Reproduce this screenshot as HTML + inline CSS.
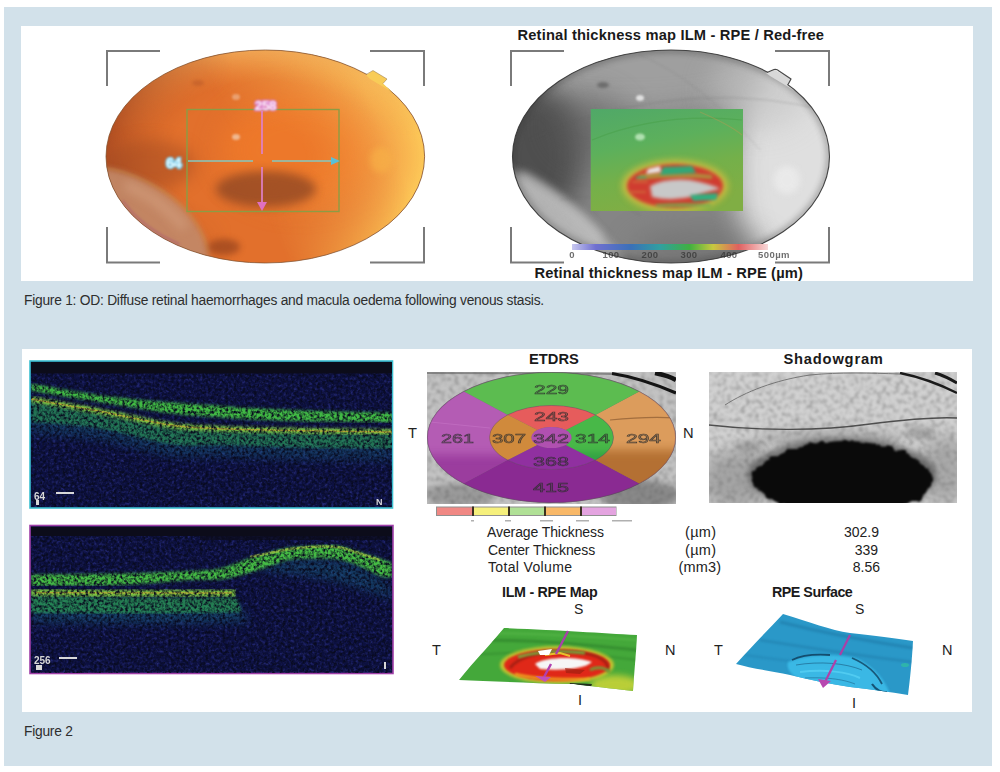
<!DOCTYPE html>
<html><head><meta charset="utf-8">
<style>
html,body{margin:0;padding:0;background:#fff;width:1000px;height:772px;overflow:hidden;position:relative;font-family:"Liberation Sans",sans-serif;}
.abs{position:absolute;}
#bg{left:4px;top:7px;width:988px;height:759px;background:#d2e1ea;}
#p1{left:21px;top:26px;width:952px;height:255px;background:#fff;}
#p2{left:22px;top:349px;width:950px;height:363px;background:#fff;}
.cap{font-size:13.8px;letter-spacing:-0.25px;color:#2e2e2e;white-space:nowrap;}
.b{font-weight:bold;color:#1a1a1a;white-space:nowrap;}
.t{color:#222;white-space:nowrap;font-size:14px;}
svg{position:absolute;left:0;top:0;}
</style></head><body>
<div id="bg" class="abs"></div><div id="p1" class="abs"></div><div id="p2" class="abs"></div>
<div class="abs cap" style="left:24px;top:292.5px;">Figure 1: OD: Diffuse retinal haemorrhages and macula oedema following venous stasis.</div>
<div class="abs cap" style="left:24px;top:723.5px;">Figure 2</div>
<svg width="1000" height="772" viewBox="0 0 1000 772">

<defs>
  <clipPath id="cL"><ellipse cx="265.3" cy="156.5" rx="159.3" ry="106.5"/></clipPath>
  <clipPath id="cR"><ellipse cx="671" cy="156.5" rx="158.5" ry="106.5"/></clipPath>
  <clipPath id="cGR"><rect x="590.5" y="109" width="152.5" height="102"/></clipPath>
  <filter id="bl14" color-interpolation-filters="sRGB" x="-50%" y="-50%" width="200%" height="200%"><feGaussianBlur stdDeviation="14"/></filter>
  <filter id="bl8" color-interpolation-filters="sRGB" x="-50%" y="-50%" width="200%" height="200%"><feGaussianBlur stdDeviation="8"/></filter>
  <filter id="bl5" color-interpolation-filters="sRGB" x="-50%" y="-50%" width="200%" height="200%"><feGaussianBlur stdDeviation="5"/></filter>
  <filter id="bl3" color-interpolation-filters="sRGB" x="-50%" y="-50%" width="200%" height="200%"><feGaussianBlur stdDeviation="3"/></filter>
  <filter id="bl2" color-interpolation-filters="sRGB" x="-50%" y="-50%" width="200%" height="200%"><feGaussianBlur stdDeviation="1.5"/></filter>
  <filter id="bl1" color-interpolation-filters="sRGB" x="-50%" y="-50%" width="200%" height="200%"><feGaussianBlur stdDeviation="0.8"/></filter>
  <radialGradient id="gOr" cx="0.6" cy="0.42" r="0.62">
    <stop offset="0" stop-color="#f07a2c"/>
    <stop offset="0.55" stop-color="#e4702c"/>
    <stop offset="1" stop-color="#c85c28"/>
  </radialGradient>
  <linearGradient id="gRim" x1="0" y1="0.5" x2="1" y2="0.3">
    <stop offset="0" stop-color="#a84a24"/>
    <stop offset="0.45" stop-color="#e48a40"/>
    <stop offset="0.8" stop-color="#f8c058"/>
    <stop offset="1" stop-color="#fcd060"/>
  </linearGradient>
  <linearGradient id="gGray" x1="0" y1="0" x2="1" y2="0">
    <stop offset="0" stop-color="#404040"/>
    <stop offset="0.25" stop-color="#6a6a6a"/>
    <stop offset="0.55" stop-color="#9a9a9a"/>
    <stop offset="0.8" stop-color="#c8c8c8"/>
    <stop offset="1" stop-color="#e4e4e4"/>
  </linearGradient>
  <linearGradient id="gGreen" x1="0" y1="0" x2="0.3" y2="1">
    <stop offset="0" stop-color="#50a868"/>
    <stop offset="0.4" stop-color="#5cb05c"/>
    <stop offset="0.7" stop-color="#74b04a"/>
    <stop offset="1" stop-color="#80ae44"/>
  </linearGradient>
  <linearGradient id="gBar" x1="0" y1="0" x2="1" y2="0">
    <stop offset="0" stop-color="#c8c8f0"/>
    <stop offset="0.12" stop-color="#7070d0"/>
    <stop offset="0.3" stop-color="#3a70b8"/>
    <stop offset="0.45" stop-color="#30a0a0"/>
    <stop offset="0.6" stop-color="#40b040"/>
    <stop offset="0.72" stop-color="#c8c840"/>
    <stop offset="0.85" stop-color="#e06060"/>
    <stop offset="1" stop-color="#f8d8d8"/>
  </linearGradient>
  <filter id="noise" color-interpolation-filters="sRGB" x="0" y="0" width="100%" height="100%">
    <feTurbulence type="fractalNoise" baseFrequency="0.9" numOctaves="2" seed="3" result="n"/>
    <feColorMatrix in="n" type="matrix" values="0 0 0 0 0  0 0 0 0 0  0 0 0 0 0  0 0 0 1.2 -0.45" result="a"/>
    <feComposite in="SourceGraphic" in2="a" operator="in"/>
  </filter>
  <radialGradient id="rimY" cx="0.5" cy="0.5" r="0.5">
    <stop offset="0.25" stop-color="#f6a84c" stop-opacity="0"/>
    <stop offset="0.75" stop-color="#f8b050" stop-opacity="0.8"/>
    <stop offset="1" stop-color="#fcc858" stop-opacity="1"/>
  </radialGradient>
  <radialGradient id="rimT" cx="0.5" cy="0.5" r="0.5">
    <stop offset="0.7" stop-color="#f0a050" stop-opacity="0"/>
    <stop offset="1" stop-color="#f0a858" stop-opacity="0.9"/>
  </radialGradient>
  <radialGradient id="rimD" cx="0.5" cy="0.5" r="0.5">
    <stop offset="0.6" stop-color="#a04420" stop-opacity="0"/>
    <stop offset="1" stop-color="#a04420" stop-opacity="0.8"/>
  </radialGradient>
  <linearGradient id="lgR" x1="0" y1="0.6" x2="1" y2="0.3"><stop offset="0.42" stop-color="#fff" stop-opacity="0"/><stop offset="0.85" stop-color="#fff" stop-opacity="1"/></linearGradient>
  <linearGradient id="lgT" x1="0" y1="0" x2="0" y2="1"><stop offset="0" stop-color="#fff" stop-opacity="1"/><stop offset="0.4" stop-color="#fff" stop-opacity="0"/></linearGradient>
  <linearGradient id="lgL" x1="0" y1="0" x2="1" y2="0"><stop offset="0" stop-color="#fff" stop-opacity="1"/><stop offset="0.4" stop-color="#fff" stop-opacity="0"/></linearGradient>
  <mask id="mkR"><rect x="100" y="45" width="330" height="225" fill="url(#lgR)"/></mask>
  <mask id="mkT"><rect x="100" y="45" width="330" height="225" fill="url(#lgT)"/></mask>
  <mask id="mkL"><rect x="100" y="45" width="330" height="225" fill="url(#lgL)"/></mask>
</defs>



<g clip-path="url(#cL)">
  <rect x="100" y="45" width="330" height="225" fill="#e2702c"/>
  <ellipse cx="300" cy="150" rx="80" ry="55" fill="#f27c2a" opacity="0.7" filter="url(#bl14)"/>
  <ellipse cx="265.3" cy="156.5" rx="159.3" ry="106.5" fill="url(#rimY)" mask="url(#mkR)"/>
  <ellipse cx="265.3" cy="156.5" rx="159.3" ry="106.5" fill="url(#rimT)" mask="url(#mkT)"/>
  <ellipse cx="265.3" cy="156.5" rx="159.3" ry="106.5" fill="url(#rimD)" mask="url(#mkL)"/>
  <ellipse cx="150" cy="165" rx="45" ry="25" fill="#a04a22" opacity="0.5" filter="url(#bl8)"/>
  <path d="M104 168 C130 171 160 186 180 204 C195 218 204 234 209 252 L205 280 L90 280 L90 168 Z" fill="#c28a6a" opacity="0.9" filter="url(#bl3)"/>
  <path d="M125 185 C150 195 170 210 185 228" stroke="#d4a080" stroke-width="10" fill="none" opacity="0.6" filter="url(#bl5)"/>
  <path d="M104 168 C130 171 160 186 180 204 C195 218 204 234 209 252" stroke="#c89040" stroke-width="2" fill="none" opacity="0.35" filter="url(#bl1)"/>
  <ellipse cx="266" cy="189" rx="50" ry="18" fill="#8c4624" opacity="0.75" filter="url(#bl5)"/>
  <ellipse cx="224" cy="247" rx="16" ry="8" fill="#8a3c1c" opacity="0.6" filter="url(#bl3)"/>
  <ellipse cx="381" cy="160" rx="11" ry="13" fill="#f8b448" opacity="0.6" filter="url(#bl3)"/>
  <ellipse cx="236" cy="137" rx="4" ry="3" fill="#f0b890" filter="url(#bl1)"/>
  <ellipse cx="236" cy="97" rx="4" ry="3" fill="#eaa070" filter="url(#bl1)"/>
  <ellipse cx="198" cy="83" rx="6" ry="3" fill="#b85828" opacity="0.5" filter="url(#bl2)"/>
</g>
<ellipse cx="265.3" cy="156.5" rx="159.3" ry="106.5" fill="none" stroke="#7a5030" stroke-width="0.9" opacity="0.8"/>
<polyline points="122.6,200.7 133.2,213.5 146.4,225.2 162.0,235.5 179.5,244.3" stroke="#a04878" stroke-width="1.6" fill="none" opacity="0.5" filter="url(#bl1)"/>
<path d="M366 75 L373 70.5 L387 79 L383 83.5 L392 92 L370 79 Z" fill="#f8cc58"/>
<path d="M366 74.5 L373 70.5 L387 79 L383 83.5" stroke="#8a6a40" stroke-width="0.8" fill="none" opacity="0.6"/>
<g stroke="#7a7a7a" stroke-width="2" fill="none">
  <path d="M160 51 H107 V86"/>
  <path d="M370 51 H424 V86"/>
  <path d="M107 227 V262.5 H160"/>
  <path d="M424 227 V262.5 H370"/>
</g>
<rect x="187" y="109.5" width="152" height="102" fill="none" stroke="#8c9c44" stroke-width="1.4"/>
<g stroke="#e080c8" stroke-width="1.7" fill="none">
  <path d="M262 111 V154"/><path d="M262 167 V205"/>
</g>
<path d="M257 202 L267 202 L262 211 Z" fill="#e070c0"/>
<g stroke="#84c8c0" stroke-width="1.7" fill="none">
  <path d="M188 161 H253"/><path d="M272 161 H333"/>
</g>
<path d="M331 157 L340 161 L331 165 Z" fill="#58c0d8"/>
<text x="265.5" y="109.5" font-family="Liberation Sans" font-weight="bold" font-size="13.5" fill="#fff4fa" stroke="#d878c8" stroke-width="2.4" paint-order="stroke" text-anchor="middle" filter="url(#bl1)" letter-spacing="-0.3">258</text>
<text x="173.5" y="167.5" font-family="Liberation Sans" font-weight="bold" font-size="14.5" fill="#e8fbff" stroke="#70c8ec" stroke-width="2.4" paint-order="stroke" text-anchor="middle" filter="url(#bl1)" letter-spacing="-0.5">64</text>


<g clip-path="url(#cR)">
  <rect x="505" y="45" width="335" height="225" fill="#858585"/>
  <ellipse cx="630" cy="65" rx="160" ry="45" fill="#a4a4a4" opacity="0.85" filter="url(#bl14)"/>
  <ellipse cx="535" cy="155" rx="48" ry="70" fill="#4a4a4a" opacity="0.9" filter="url(#bl14)"/>
  <ellipse cx="590" cy="125" rx="40" ry="35" fill="#5a5a5a" opacity="0.4" filter="url(#bl14)"/>
  <ellipse cx="805" cy="170" rx="70" ry="120" fill="#e4e4e4" opacity="0.95" filter="url(#bl14)"/>
  <ellipse cx="760" cy="90" rx="50" ry="40" fill="#c4c4c4" opacity="0.6" filter="url(#bl14)"/>
  <ellipse cx="700" cy="250" rx="70" ry="22" fill="#6a6a6a" opacity="0.5" filter="url(#bl14)"/>
  <path d="M505 168 C540 180 590 215 625 262 L600 275 C570 245 530 225 505 215 Z" fill="#b8b8b8" opacity="0.95" filter="url(#bl5)"/>
  <path d="M520 175 C550 190 580 215 600 240" stroke="#c4c4c4" stroke-width="10" fill="none" opacity="0.6" filter="url(#bl5)"/>
  <ellipse cx="787" cy="180" rx="13" ry="14" fill="#ececec" opacity="0.8" filter="url(#bl3)"/>
  <ellipse cx="640" cy="98" rx="4" ry="3" fill="#e0e0e0" filter="url(#bl1)"/>
  <ellipse cx="603" cy="85" rx="6" ry="3" fill="#505050" opacity="0.6" filter="url(#bl2)"/>
  <path d="M530 140 Q600 105 700 98 Q770 95 830 112" stroke="#606060" stroke-width="1" fill="none" opacity="0.25" filter="url(#bl1)"/>
  <path d="M640 55 Q700 80 760 150" stroke="#707070" stroke-width="1" fill="none" opacity="0.2" filter="url(#bl1)"/>
  <path d="M560 200 Q600 190 640 215" stroke="#606060" stroke-width="1" fill="none" opacity="0.2" filter="url(#bl1)"/>
  <ellipse cx="671" cy="156.5" rx="158.5" ry="106.5" fill="none" stroke="#303030" stroke-width="5" opacity="0.4" filter="url(#bl3)"/>
</g>
<ellipse cx="671" cy="156.5" rx="158.5" ry="106.5" fill="none" stroke="#383838" stroke-width="1.1" opacity="0.9"/>
<path d="M766 73 L774 69.5 L791 79 L787 85 L795 91 L770 76 Z" fill="#d8d8d8"/>
<path d="M767 72.5 L774 69.5 Q777 69 779 71 L791 79 L788 84.5" stroke="#484848" stroke-width="1.2" fill="none" stroke-linejoin="round"/>
<g stroke="#7a7a7a" stroke-width="2" fill="none">
  <path d="M564 51 H511 V86"/>
  <path d="M775 51 H829 V86"/>
  <path d="M511 227 V262.5 H564"/>
  <path d="M829 227 V262.5 H775"/>
</g>
<g clip-path="url(#cGR)">
  <rect x="590.5" y="109" width="152.5" height="102" fill="url(#gGreen)"/>
  <path d="M592 140 Q660 112 742 120" stroke="#48a048" stroke-width="1.2" fill="none" opacity="0.5"/>
  <path d="M700 112 Q730 125 742 135" stroke="#c09850" stroke-width="1.2" fill="none" opacity="0.4"/>
  <ellipse cx="640" cy="137" rx="5" ry="3.5" fill="#b0e0b0" filter="url(#bl1)"/>
  <g filter="url(#bl1)">
  <ellipse cx="675" cy="186" rx="53" ry="26" fill="#d8c040" opacity="0.85" filter="url(#bl3)"/>
  <ellipse cx="675" cy="186" rx="48" ry="22" fill="#d03c30" filter="url(#bl2)"/>
  <path d="M640 174 Q675 170 712 175 L712 179 Q675 176 636 180 Z" fill="#a8a040" opacity="0.8" filter="url(#bl1)"/>
  <path d="M663 167 L692 166 L696 173 L660 175 Z" fill="#30a878" filter="url(#bl1)"/>
  <path d="M648 169 L660 166 L661 172 L646 174 Z" fill="#e8e8e8" filter="url(#bl1)"/>
  <path d="M636 178 Q640 176 646 178" stroke="#40a070" stroke-width="2" fill="none" filter="url(#bl1)"/>
  <path d="M650 186 Q665 178 690 180 Q712 184 720 189 Q705 192 695 196 Q672 202 652 197 Z" fill="#c8c8c8" filter="url(#bl2)"/>
  <path d="M690 195 L718 193 L716 200 L693 201 Z" fill="#30b080" filter="url(#bl1)"/>
  <path d="M655 204 Q685 202 712 204 L710 207 Q685 207 657 207 Z" fill="#70b050" opacity="0.8" filter="url(#bl1)"/>
  <path d="M632 182 H648 M630 192 H646" stroke="#d08040" stroke-width="2" opacity="0.6" filter="url(#bl1)"/>
  </g>
</g>
<rect x="572" y="244" width="196" height="6" fill="url(#gBar)"/>
<g font-family="Liberation Sans" font-size="9.5" font-weight="bold" fill="#303030" text-anchor="middle" opacity="0.7" letter-spacing="0.4" filter="url(#b06)">
  <text x="572" y="258">0</text><text x="611" y="258">100</text><text x="650" y="258">200</text>
  <text x="689" y="258">300</text><text x="729" y="258">400</text><text x="774" y="258">500µm</text>
</g>


<defs>
  <filter id="spk" color-interpolation-filters="sRGB" x="0" y="0" width="1" height="1">
    <feTurbulence type="fractalNoise" baseFrequency="0.32" numOctaves="2" seed="11" result="n"/>
    <feColorMatrix in="n" type="matrix" values="0 0 0 0 0.15  0 0 0 0 0.17  0 0 0 0 0.48  2.2 0 0 0 -0.95"/>
  </filter>
  <filter id="gnz" color-interpolation-filters="sRGB" x="0" y="0" width="1" height="1">
    <feGaussianBlur in="SourceGraphic" stdDeviation="1.6"/>
  </filter>
  <filter id="grayn" color-interpolation-filters="sRGB" x="0" y="0" width="1" height="1">
    <feTurbulence type="fractalNoise" baseFrequency="0.22" numOctaves="3" seed="21" result="n"/>
    <feColorMatrix in="n" type="matrix" values="0 0 0 0 0.45  0 0 0 0 0.45  0 0 0 0 0.45  1.5 0 0 0 -0.66"/>
    <feGaussianBlur stdDeviation="0.9"/>
  </filter>
  <filter id="dspk" color-interpolation-filters="sRGB" x="0" y="0" width="1" height="1">
    <feTurbulence type="fractalNoise" baseFrequency="0.35" numOctaves="2" seed="29" result="n"/>
    <feColorMatrix in="n" type="matrix" values="0 0 0 0 0.03  0 0 0 0 0.04  0 0 0 0 0.12  2.6 0 0 0 -1.0"/>
  </filter>
  <filter id="rag" color-interpolation-filters="sRGB" x="-10%" y="-20%" width="120%" height="140%">
    <feTurbulence type="fractalNoise" baseFrequency="0.12" numOctaves="2" seed="4" result="t"/>
    <feDisplacementMap in="SourceGraphic" in2="t" scale="9" xChannelSelector="R" yChannelSelector="G"/>
    <feGaussianBlur stdDeviation="0.8"/>
  </filter>
  <clipPath id="cO1"><rect x="31" y="362" width="361" height="145"/></clipPath>
  <clipPath id="cO2"><rect x="31" y="527" width="361" height="146"/></clipPath>
  <clipPath id="cE"><rect x="427" y="372" width="249" height="132"/></clipPath>
  <clipPath id="cEll"><ellipse cx="551.5" cy="437.5" rx="124" ry="65"/></clipPath>
  <clipPath id="cS"><rect x="709" y="372" width="248" height="131"/></clipPath>
  <filter id="b06" color-interpolation-filters="sRGB" x="-20%" y="-20%" width="140%" height="140%"><feGaussianBlur stdDeviation="0.6"/></filter>
</defs>

<rect x="30" y="361" width="362.5" height="147" fill="#0c1040" stroke="#3cc0d0" stroke-width="1.6"/>
<g clip-path="url(#cO1)">
  <rect x="31" y="362" width="361" height="145" fill="#000" filter="url(#spk)"/>
  <path d="M31.0 402.0 C42.2 404.0 74.8 409.7 98.0 414.0 C121.2 418.3 150.5 425.1 170.0 428.0 C189.5 430.9 201.7 430.7 215.0 431.5 C228.3 432.3 232.5 432.3 250.0 432.7 C267.5 433.1 296.3 433.6 320.0 434.0 C343.7 434.4 380.0 434.8 392.0 435.0 L392.0 461.0 C380.0 460.8 343.7 460.5 320.0 460.0 C296.3 459.5 267.5 458.5 250.0 458.0 C232.5 457.5 228.3 457.3 215.0 457.0 C201.7 456.7 189.5 458.8 170.0 456.0 C150.5 453.2 121.2 443.7 98.0 440.0 C74.8 436.3 42.2 435.0 31.0 434.0 Z" fill="#1a6880" opacity="0.4" filter="url(#bl5)"/>
  <path d="M31.0 401.0 C42.2 403.0 74.8 408.7 98.0 413.0 C121.2 417.3 150.5 424.1 170.0 427.0 C189.5 429.9 201.7 429.7 215.0 430.5 C228.3 431.3 232.5 431.3 250.0 431.7 C267.5 432.1 296.3 432.6 320.0 433.0 C343.7 433.4 380.0 433.8 392.0 434.0 L392.0 449.0 C380.0 448.8 343.7 448.5 320.0 448.0 C296.3 447.5 267.5 446.5 250.0 446.0 C232.5 445.5 228.3 445.3 215.0 445.0 C201.7 444.7 189.5 446.8 170.0 444.0 C150.5 441.2 121.2 431.7 98.0 428.0 C74.8 424.3 42.2 423.0 31.0 422.0 Z" fill="#2ca050" opacity="0.6" filter="url(#gnz)"/>
  <path d="M31.0 383.5 C42.2 385.4 74.8 391.8 98.0 394.9 C121.2 398.0 150.5 400.6 170.0 402.3 C189.5 404.1 201.7 404.4 215.0 405.4 C228.3 406.3 232.5 407.1 250.0 408.0 C267.5 408.9 296.3 410.2 320.0 411.0 C343.7 411.8 380.0 412.3 392.0 412.6 L392.0 422.5 C380.0 422.3 343.7 422.0 320.0 421.5 C296.3 421.0 267.5 420.1 250.0 419.4 C232.5 418.6 228.3 418.0 215.0 417.0 C201.7 416.0 189.5 415.7 170.0 413.2 C150.5 410.7 121.2 405.8 98.0 402.0 C74.8 398.2 42.2 392.6 31.0 390.7 Z" fill="#44c444" opacity="0.95" filter="url(#gnz)"/>
  <path d="M31.0 396.0 C42.2 398.0 74.8 403.7 98.0 408.0 C121.2 412.3 150.5 419.1 170.0 422.0 C189.5 424.9 201.7 424.7 215.0 425.5 C228.3 426.3 232.5 426.3 250.0 426.7 C267.5 427.1 296.3 427.6 320.0 428.0 C343.7 428.4 380.0 428.8 392.0 429.0 L392.0 435.0 C380.0 434.8 343.7 434.4 320.0 434.0 C296.3 433.6 267.5 433.1 250.0 432.7 C232.5 432.3 228.3 432.3 215.0 431.5 C201.7 430.7 189.5 430.9 170.0 428.0 C150.5 425.1 121.2 418.3 98.0 414.0 C74.8 409.7 42.2 404.0 31.0 402.0 Z" fill="#80cc40" filter="url(#gnz)"/>
  <path d="M31.0 399.0 C42.2 401.0 74.8 406.7 98.0 411.0 C121.2 415.3 150.5 422.1 170.0 425.0 C189.5 427.9 201.7 427.7 215.0 428.5 C228.3 429.3 232.5 429.3 250.0 429.7 C267.5 430.1 296.3 430.6 320.0 431.0 C343.7 431.4 380.0 431.8 392.0 432.0" stroke="#e08c30" stroke-width="1.4" fill="none" opacity="0.55" filter="url(#b06)"/>
  <rect x="31" y="373" width="361" height="134" fill="#000" filter="url(#dspk)"/>
  <rect x="31" y="362" width="361" height="11.5" fill="#0c0c1a"/>
</g>
<g fill="#d8d8d8" filter="url(#b06)">
  <text x="34" y="500" font-family="Liberation Sans" font-weight="bold" font-size="10">64</text>
  <rect x="36" y="500" width="3" height="5"/>
  <rect x="56" y="492" width="18" height="2"/>
  <text x="376" y="505" font-family="Liberation Sans" font-weight="bold" font-size="9">N</text>
</g>

<rect x="30" y="525.5" width="363" height="148" fill="#0c1040" stroke="#a040a8" stroke-width="1.6"/>
<g clip-path="url(#cO2)">
  <rect x="31" y="527" width="361" height="146" fill="#000" filter="url(#spk)"/>
  <path d="M31 596 C100 600 180 604 236 604 L250 622 C180 624 100 624 31 622 Z" fill="#1a6880" opacity="0.5" filter="url(#bl5)"/>
  <path d="M31 595 C100 597 180 598 236 597 L242 612 C180 614 100 614 31 613 Z" fill="#2ca050" opacity="0.7" filter="url(#gnz)"/>
  <path d="M250 566 C280 558 320 556 350 562 C370 568 385 580 392 590 L392 600 C370 590 320 575 280 574 Z" fill="#1a6880" opacity="0.45" filter="url(#bl5)"/>
  <path d="M31.0 574.5 C45.8 574.3 93.5 574.1 120.0 573.5 C146.5 572.9 173.3 571.8 190.0 571.0 C206.7 570.2 210.8 570.4 220.0 568.5 C229.2 566.6 236.7 562.5 245.0 559.7 C253.3 557.0 262.5 554.0 270.0 552.0 C277.5 550.0 281.7 548.8 290.0 547.6 C298.3 546.4 311.7 545.2 320.0 544.9 C328.3 544.6 333.3 544.8 340.0 546.0 C346.7 547.2 353.3 549.9 360.0 552.0 C366.7 554.1 374.7 556.8 380.0 558.6 C385.3 560.4 390.0 562.3 392.0 563.0 L392.0 577.3 C390.0 577.1 385.3 577.8 380.0 576.0 C374.7 574.2 366.7 569.0 360.0 566.3 C353.3 563.6 346.7 561.0 340.0 559.7 C333.3 558.4 328.3 558.6 320.0 558.6 C311.7 558.6 298.3 558.5 290.0 559.7 C281.7 560.9 277.5 563.6 270.0 566.0 C262.5 568.4 253.3 571.8 245.0 574.0 C236.7 576.2 229.2 578.5 220.0 579.5 C210.8 580.5 206.7 579.1 190.0 580.0 C173.3 580.9 146.5 584.0 120.0 585.0 C93.5 586.0 45.8 585.8 31.0 586.0 Z" fill="#48c444" opacity="0.95" filter="url(#gnz)"/>
  <path d="M250.0 557.0 C256.7 555.7 278.3 550.8 290.0 549.0 C301.7 547.2 311.7 546.8 320.0 546.5 C328.3 546.2 333.3 546.3 340.0 547.5 C346.7 548.7 353.3 551.4 360.0 553.5 C366.7 555.6 376.7 558.9 380.0 560.0" stroke="#c8d040" stroke-width="2.5" fill="none" opacity="0.55" filter="url(#b06)"/>
  <path d="M31 589 C100 590 180 590 236 589.5 L236 596.5 C180 597 100 597 31 596 Z" fill="#80cc40" filter="url(#gnz)"/>
  <path d="M36 592.5 C100 593 180 593 232 593" stroke="#e08c30" stroke-width="1.4" fill="none" opacity="0.55" filter="url(#b06)"/>
  <rect x="31" y="527" width="361" height="146" fill="#000" filter="url(#dspk)"/>
  <rect x="31" y="527" width="361" height="9" fill="#0c0c1a"/>
  <rect x="200" y="536" width="192" height="4" fill="#0c0c1a" opacity="0.7"/>
</g>
<g fill="#d8d8d8" filter="url(#b06)">
  <text x="34" y="664" font-family="Liberation Sans" font-weight="bold" font-size="10">256</text>
  <rect x="59" y="657" width="18" height="2"/>
  <rect x="36" y="665" width="6" height="5"/>
  <rect x="384" y="662" width="2" height="7"/>
</g>

<g clip-path="url(#cE)">
  <rect x="427" y="372" width="249" height="132" fill="#c4c4c4"/>
  <rect x="427" y="372" width="249" height="132" fill="#000" filter="url(#grayn)"/>
  <path d="M612 373.5 C635 377 655 384 676 393" stroke="#141414" stroke-width="3.2" fill="none" filter="url(#b06)"/>
  <path d="M655 373 C665 375 671 377 676 380" stroke="#141414" stroke-width="4.5" fill="none" filter="url(#b06)"/>
  <path d="M427 373 C480 373 560 373 612 374" stroke="#606060" stroke-width="2" fill="none" opacity="0.6" filter="url(#b06)"/>
  <ellipse cx="640" cy="495" rx="40" ry="15" fill="#505050" opacity="0.5" filter="url(#bl3)"/>
  <ellipse cx="460" cy="495" rx="35" ry="12" fill="#505050" opacity="0.35" filter="url(#bl3)"/>
</g>
<ellipse cx="551.5" cy="437.5" rx="124.5" ry="65.5" fill="#404040" opacity="0.6"/>
<path d="M639.2 483.5 A124 65 0 0 0 639.2 391.5 L595.3 414.9 A62 32 0 0 1 595.3 460.1 Z" fill="#dc9c5c"/><path d="M595.3 460.1 A62 32 0 0 0 595.3 414.9 L565.6 430.1 A20 10.5 0 0 1 565.6 444.9 Z" fill="#48b848"/><path d="M639.2 391.5 A124 65 0 0 0 463.8 391.5 L507.7 414.9 A62 32 0 0 1 595.3 414.9 Z" fill="#5cbc50"/><path d="M595.3 414.9 A62 32 0 0 0 507.7 414.9 L537.4 430.1 A20 10.5 0 0 1 565.6 430.1 Z" fill="#e65c5c"/><path d="M463.8 391.5 A124 65 0 0 0 463.8 483.5 L507.7 460.1 A62 32 0 0 1 507.7 414.9 Z" fill="#b45cb4"/><path d="M507.7 414.9 A62 32 0 0 0 507.7 460.1 L537.4 444.9 A20 10.5 0 0 1 537.4 430.1 Z" fill="#d08a3c"/><path d="M463.8 483.5 A124 65 0 0 0 639.2 483.5 L595.3 460.1 A62 32 0 0 1 507.7 460.1 Z" fill="#8a2a92"/><path d="M507.7 460.1 A62 32 0 0 0 595.3 460.1 L565.6 444.9 A20 10.5 0 0 1 537.4 444.9 Z" fill="#9030a0"/>
<ellipse cx="551.5" cy="437.5" rx="20" ry="10.5" fill="#b050b0"/>
<path d="M440 470 C470 490 520 500 600 500 L640 490 C600 505 500 505 450 485 Z" fill="#7a2080" opacity="0.0"/>
<path d="M585 470 L638 484 C630 492 620 496 600 500 Z" fill="#a8601e" opacity="0"/>
<defs>
  <clipPath id="cSR"><path d="M639.2 483.5 A124 65 0 0 0 639.2 391.5 L595.3 414.9 A62 32 0 0 1 595.3 460.1 Z"/></clipPath>
  <clipPath id="cSL"><path d="M463.8 391.5 A124 65 0 0 0 463.8 483.5 L507.7 460.1 A62 32 0 0 1 507.7 414.9 Z"/></clipPath>
  <clipPath id="cMR"><path d="M595.3 460.1 A62 32 0 0 0 595.3 414.9 L565.6 430.1 A20 10.5 0 0 1 565.6 444.9 Z"/></clipPath>
</defs>
<g clip-path="url(#cSR)"><rect x="560" y="450" width="130" height="60" fill="#9a5418" opacity="0.6" filter="url(#bl5)"/></g>
<g clip-path="url(#cSL)"><rect x="420" y="455" width="130" height="60" fill="#8a2890" opacity="0.6" filter="url(#bl5)"/></g>
<g clip-path="url(#cMR)"><rect x="560" y="452" width="60" height="30" fill="#209040" opacity="0.5" filter="url(#bl3)"/></g>
<path d="M610 420 C630 418 660 417 676 418" stroke="#6a4020" stroke-width="1.2" fill="none" opacity="0.5" clip-path="url(#cSR)"/>
<path d="M430 422 C450 424 470 426 490 428" stroke="#d080d0" stroke-width="1" fill="none" opacity="0.4" clip-path="url(#cSL)"/>
<g fill="none" stroke="#6a3a6a" stroke-width="0.6" opacity="0.6">
  <ellipse cx="551.5" cy="437.5" rx="124" ry="65"/>
  <ellipse cx="551.5" cy="437.5" rx="62" ry="32"/>
</g>
<g font-family="Liberation Sans" font-size="13" fill="#404040" fill-opacity="0.35" stroke="#2a2a2a" stroke-width="0.55" stroke-opacity="0.8" filter="url(#b06)">
  <text x="534" y="393.5" textLength="35" lengthAdjust="spacingAndGlyphs">229</text>
  <text x="534" y="421" textLength="35" lengthAdjust="spacingAndGlyphs">243</text>
  <text x="441" y="442.5" textLength="33" lengthAdjust="spacingAndGlyphs">261</text>
  <text x="492" y="443" textLength="34" lengthAdjust="spacingAndGlyphs">307</text>
  <text x="533" y="443" textLength="36" lengthAdjust="spacingAndGlyphs">342</text>
  <text x="575" y="443" textLength="35" lengthAdjust="spacingAndGlyphs">314</text>
  <text x="626" y="442.5" textLength="35" lengthAdjust="spacingAndGlyphs">294</text>
  <text x="533" y="466" textLength="36" lengthAdjust="spacingAndGlyphs">368</text>
  <text x="533" y="492" textLength="36" lengthAdjust="spacingAndGlyphs">415</text>
</g>
<rect x="436" y="506.5" width="180.5" height="9.5" fill="#909090"/>
<rect x="472" y="506.5" width="2" height="9.5" fill="#3a3020"/>
<rect x="508" y="506.5" width="2" height="9.5" fill="#3a3020"/>
<rect x="544" y="506.5" width="2" height="9.5" fill="#3a3020"/>
<rect x="580" y="506.5" width="2" height="9.5" fill="#3a3020"/>
<g fill="#909090" opacity="0.7"><rect x="471" y="520" width="3" height="1.5"/><rect x="505" y="520" width="6" height="1.5"/><rect x="540" y="520" width="13" height="1.5"/><rect x="576" y="520" width="13" height="1.5"/><rect x="612" y="520" width="20" height="1.5"/></g>
<rect x="437" y="507.5" width="35" height="7.5" fill="#f08884"/>
<rect x="474" y="507.5" width="34" height="7.5" fill="#f6f07c"/>
<rect x="510" y="507.5" width="34" height="7.5" fill="#b0e096"/>
<rect x="546" y="507.5" width="34" height="7.5" fill="#f8b868"/>
<rect x="582" y="507.5" width="34" height="7.5" fill="#e4a4e0"/>

<g clip-path="url(#cS)">
  <rect x="709" y="372" width="248" height="131" fill="#d2d2d2"/>
  <rect x="709" y="372" width="248" height="131" fill="#000" filter="url(#grayn)"/>
  <ellipse cx="735" cy="480" rx="35" ry="30" fill="#707070" opacity="0.45" filter="url(#bl8)"/>
  <ellipse cx="945" cy="470" rx="25" ry="35" fill="#707070" opacity="0.4" filter="url(#bl8)"/>
  <ellipse cx="830" cy="438" rx="75" ry="10" fill="#808080" opacity="0.35" filter="url(#bl5)"/>
  <ellipse cx="920" cy="433" rx="15" ry="6" fill="#505050" opacity="0.35" filter="url(#bl3)"/>
  <ellipse cx="750" cy="447" rx="14" ry="7" fill="#505050" opacity="0.3" filter="url(#bl3)"/>
  <path d="M709 425 C760 431 820 431 870 424 C910 419 940 417 957 418" stroke="#3a3a3a" stroke-width="1.3" fill="none" opacity="0.85" filter="url(#b06)"/>
  <path d="M725 405 C745 392 775 380 810 375 C840 372 870 373 900 374" stroke="#555" stroke-width="1" fill="none" opacity="0.7" filter="url(#b06)"/>
  <path d="M900 373 C925 378 945 387 957 393" stroke="#1a1a1a" stroke-width="2.5" fill="none" filter="url(#b06)"/>
  <path d="M935 373 C945 376 952 380 957 383" stroke="#1a1a1a" stroke-width="3" fill="none" filter="url(#b06)"/>
  <ellipse cx="842" cy="475" rx="94" ry="37" fill="#303030" opacity="0.55" filter="url(#bl3)"/>
  <path d="M753 476 C760 455 800 442 845 441 C890 441 925 458 932 478 C932 500 905 512 845 512 C790 512 753 500 753 476 Z" fill="#0a0a0a" filter="url(#rag)"/>
</g>

<defs>
  <clipPath id="cTD1"><path d="M504 628 C560 630 600 633 637 635 C636 655 634 675 633 691 C615 689 600 687 590 686 C580 685 575 684 570 684 C530 683 490 681 459 680 C475 660 490 645 504 628 Z"/></clipPath>
  <clipPath id="cTD2"><path d="M783 614 C810 622 830 630 850 633 C875 636 895 638 913 641 C912 660 910 680 908 695 C890 692 870 689 850 687 C830 684 810 680 790 675 C770 671 750 668 736 664 C752 646 768 630 783 614 Z"/></clipPath>
</defs>
<g clip-path="url(#cTD1)">
  <rect x="455" y="625" width="185" height="70" fill="#44a83a"/>
  <path d="M480 640 C540 640 590 645 637 650" stroke="#2a7a28" stroke-width="3" fill="none" opacity="0.55" filter="url(#bl1)"/>
  <path d="M470 655 C520 652 560 650 637 660" stroke="#2a7a28" stroke-width="2" fill="none" opacity="0.4" filter="url(#bl1)"/>
  <path d="M495 633 C550 634 600 637 637 640" stroke="#60c050" stroke-width="2" fill="none" opacity="0.5" filter="url(#bl1)"/>
  <ellipse cx="615" cy="685" rx="25" ry="10" fill="#d8d838" opacity="0.8" filter="url(#bl3)"/>
  <ellipse cx="557" cy="665" rx="57" ry="19" fill="#d8c830" opacity="0.85" filter="url(#bl2)"/>
  <ellipse cx="557" cy="665" rx="53" ry="16" fill="#e02818" filter="url(#bl1)"/>
  <path d="M510 668 C520 655 545 650 575 652 C600 654 610 662 608 672" stroke="#7a1a10" stroke-width="3" fill="none" opacity="0.55" filter="url(#bl1)"/>
  <path d="M518 657 C535 652 560 650 585 653" stroke="#70b040" stroke-width="3" fill="none" opacity="0.9" filter="url(#bl1)"/>
  <path d="M545 655 L560 653 L570 656" stroke="#f0e030" stroke-width="2" fill="none" opacity="0.8"/>
  <path d="M515 674 C530 678 555 680 590 679" stroke="#f0b020" stroke-width="3" fill="none" opacity="0.8" filter="url(#bl1)"/>
  <path d="M590 670 C598 666 605 668 610 672" stroke="#60b040" stroke-width="3" fill="none" opacity="0.8" filter="url(#bl1)"/>
  <path d="M535 664 C545 657 575 656 592 662 C585 669 560 671 540 669 Z" fill="#f6f6f6" filter="url(#bl1)"/>
  <path d="M538 651 L552 649 L549 655 L540 655 Z" fill="#ffffff" filter="url(#b06)"/>
  <path d="M565 668 L585 670 L580 674 L566 673 Z" fill="#a02010" opacity="0.7" filter="url(#b06)"/>
  <path d="M570 683 L592 684 L590 689 L568 688 Z" fill="#181818" opacity="0.85"/>
</g>
<path d="M568 631 L556 654" stroke="#a840a8" stroke-width="2.4"/>
<path d="M551 664 L543 679" stroke="#b040b0" stroke-width="2.4"/>
<path d="M535 676 L551 677 L545 682 Z" fill="#c050b8"/>

<g clip-path="url(#cTD2)">
  <rect x="730" y="610" width="190" height="90" fill="#2a98c8"/>
  <path d="M780 622 C820 632 860 640 913 648" stroke="#1f7aa8" stroke-width="3" fill="none" opacity="0.6" filter="url(#bl1)"/>
  <path d="M760 640 C810 648 860 656 913 662" stroke="#1f7aa8" stroke-width="2.5" fill="none" opacity="0.5" filter="url(#bl1)"/>
  <path d="M745 655 C790 662 830 665 860 668" stroke="#1f7aa8" stroke-width="2" fill="none" opacity="0.4" filter="url(#bl1)"/>
  <path d="M788 662 C805 655 840 652 860 660 C875 668 885 680 890 694 C860 692 830 688 800 680 C790 674 786 668 788 662 Z" fill="#3cbce8" opacity="0.9" filter="url(#bl1)"/>
  <path d="M792 660 C800 656 815 654 830 655" stroke="#0e3a58" stroke-width="1.8" fill="none" opacity="0.8" filter="url(#b06)"/>
  <path d="M852 658 C866 664 876 672 882 684" stroke="#0e3a58" stroke-width="1.8" fill="none" opacity="0.75" filter="url(#b06)"/>
  <path d="M872 684 C876 690 882 693 887 692" stroke="#0e3a58" stroke-width="2.2" fill="none" opacity="0.8" filter="url(#b06)"/>
  <path d="M796 665 C820 661 845 663 862 670" stroke="#1a5a80" stroke-width="1" fill="none" opacity="0.6"/>
  <path d="M800 672 C825 669 848 672 860 678" stroke="#60d8f8" stroke-width="2" fill="none" opacity="0.6" filter="url(#b06)"/>
  <path d="M805 678 C830 677 845 680 855 684" stroke="#1a5a80" stroke-width="1" fill="none" opacity="0.5"/>
  <ellipse cx="905" cy="665" rx="4" ry="2" fill="#30c0a0" opacity="0.7"/>
</g>
<path d="M850 635 L840 655" stroke="#a840a8" stroke-width="2.2"/>
<path d="M836 660 L825 682" stroke="#b040a8" stroke-width="2.2"/>
<path d="M818 679 L831 681 L823 688 Z" fill="#b848b0"/>

</svg>

<div class="abs b" style="left:517.5px;top:27px;font-size:14.7px;letter-spacing:0.17px;">Retinal thickness map ILM - RPE / Red-free</div>
<div class="abs b" style="left:534.5px;top:264.5px;font-size:14.7px;letter-spacing:0.15px;">Retinal thickness map ILM - RPE (µm)</div>
<div class="abs b" style="left:529px;top:351px;font-size:14.7px;">ETDRS</div>
<div class="abs b" style="left:783.5px;top:351px;font-size:14.7px;letter-spacing:0.8px;">Shadowgram</div>

<div class="abs t" style="left:487px;top:524px;letter-spacing:-0.1px;">Average Thickness</div>
<div class="abs t" style="left:488px;top:541.5px;letter-spacing:-0.1px;">Center Thickness</div>
<div class="abs t" style="left:488px;top:559px;letter-spacing:0.35px;">Total Volume</div>
<div class="abs t" style="left:685px;top:524px;font-size:14.5px;letter-spacing:0.3px;">(µm)</div>
<div class="abs t" style="left:685px;top:541.5px;font-size:14.5px;letter-spacing:0.3px;">(µm)</div>
<div class="abs t" style="left:678.5px;top:559px;font-size:14.5px;letter-spacing:0.2px;">(mm3)</div>
<div class="abs t" style="left:779px;top:524px;width:100px;text-align:right;">302.9</div>
<div class="abs t" style="left:778px;top:541.5px;width:100px;text-align:right;">339</div>
<div class="abs t" style="left:780px;top:559px;width:100px;text-align:right;">8.56</div>
<div class="abs b" style="left:502px;top:584px;font-size:14.3px;letter-spacing:-0.3px;">ILM - RPE Map</div>
<div class="abs b" style="left:772px;top:584px;font-size:14.3px;letter-spacing:-0.5px;">RPE Surface</div>
<div class="abs t" style="left:408px;top:424.5px;font-size:14.7px;">T</div>
<div class="abs t" style="left:683px;top:424.5px;font-size:14.7px;">N</div>
<div class="abs t" style="left:574px;top:601px;">S</div>
<div class="abs t" style="left:855px;top:601px;">S</div>
<div class="abs t" style="left:432px;top:641.5px;font-size:14.5px;">T</div>
<div class="abs t" style="left:665px;top:641.5px;font-size:14.5px;">N</div>
<div class="abs t" style="left:714px;top:641.5px;font-size:14.5px;">T</div>
<div class="abs t" style="left:942px;top:641.5px;font-size:14.5px;">N</div>
<div class="abs t" style="left:578px;top:692px;font-size:14.5px;">I</div>
<div class="abs t" style="left:852px;top:695px;font-size:14.5px;">I</div>

</body></html>
